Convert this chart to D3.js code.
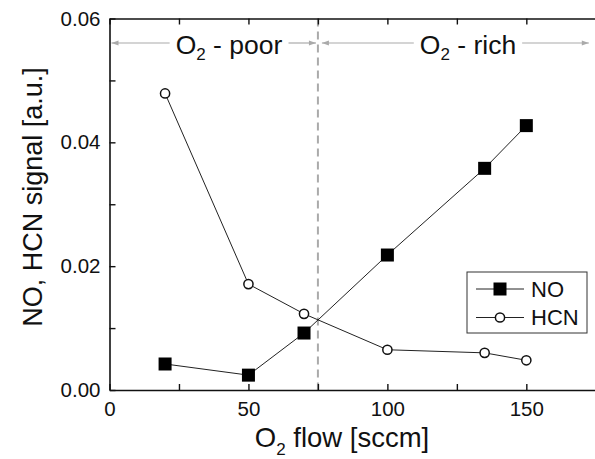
<!DOCTYPE html>
<html>
<head>
<meta charset="utf-8">
<script src="https://cdn.jsdelivr.net/npm/d3@7"></script>
<style>
  body { margin: 0; background: #fff; }
  svg { display: block; font-family: "Liberation Sans", Arial, Helvetica, sans-serif; }
</style>
</head>
<body>
<div id="chart"></div>
<script>
// O2 flow vs NO / HCN signal
const flow = [20, 50, 70, 100, 135, 150];
const noSignal = [0.0042, 0.0024, 0.0092, 0.0218, 0.0358, 0.0427];
const hcnSignal = [0.0479, 0.0171, 0.0123, 0.0065, 0.0060, 0.0048];
const xTickLabels = [0, 50, 100, 150];
const yTickLabels = [0, 0.02, 0.04, 0.06];
const seriesNames = ["NO", "HCN"];
const boundary = 75;

const width = 595, height = 459;
const plot = {left: 109.5, top: 18.5, right: 595.8, bottom: 390};

const svg = d3.select("#chart").append("svg")
  .attr("width", width).attr("height", height);

const x = d3.scaleLinear().domain([0, 175]).range([plot.left, plot.right]);
const y = d3.scaleLinear().domain([0, 0.06]).range([plot.bottom, plot.top]);

const axisColor = "#111";

// dashed boundary line
svg.append("line")
  .attr("x1", x(boundary)).attr("x2", x(boundary))
  .attr("y1", y(0.06)).attr("y2", y(0))
  .attr("stroke", "#aaa").attr("stroke-width", 2)
  .attr("stroke-dasharray", "8,5");

// axes
const xAxis = d3.axisBottom(x)
  .tickValues(d3.range(0, 176, 25))
  .tickSizeInner(-6).tickSizeOuter(0).tickPadding(11)
  .tickFormat(d => xTickLabels.includes(d) ? d : "");
const yAxis = d3.axisLeft(y)
  .tickValues(d3.range(0, 0.0601, 0.01))
  .tickSizeInner(-6).tickSizeOuter(0).tickPadding(9)
  .tickFormat(d => yTickLabels.some(v => Math.abs(v - d) < 1e-9) ? d3.format(".2f")(d) : "");
const topAxis = d3.axisTop(x)
  .tickValues(d3.range(0, 176, 25))
  .tickSizeInner(-6).tickSizeOuter(0).tickFormat("");

function styleAxis(g) {
  g.select(".domain").attr("stroke", axisColor).attr("stroke-width", 1.6);
  g.selectAll(".tick line").attr("stroke", axisColor).attr("stroke-width", 1.4);
  g.selectAll(".tick text").attr("fill", "#111").style("font-size", "20.5px")
    .style("font-family", "Liberation Sans, Arial, sans-serif");
}

svg.append("g").attr("transform", `translate(0,${plot.bottom})`).call(xAxis).call(styleAxis);
svg.append("g").attr("transform", `translate(${plot.left},0)`).call(yAxis).call(styleAxis);
svg.append("g").attr("transform", `translate(0,${plot.top})`).call(topAxis).call(styleAxis);

// series lines
const noData = flow.map((f, i) => ({f, v: noSignal[i]}));
const hcnData = flow.map((f, i) => ({f, v: hcnSignal[i]}));
const line = d3.line().x(d => x(d.f)).y(d => y(d.v));

svg.append("path").datum(noData).attr("d", line)
  .attr("fill", "none").attr("stroke", "#222").attr("stroke-width", 1);
svg.append("path").datum(hcnData).attr("d", line)
  .attr("fill", "none").attr("stroke", "#222").attr("stroke-width", 1);

const sq = 13;
svg.selectAll(".no").data(noData).join("rect")
  .attr("class", "no")
  .attr("x", d => x(d.f) - sq / 2).attr("y", d => y(d.v) - sq / 2)
  .attr("width", sq).attr("height", sq).attr("fill", "#000");

svg.selectAll(".hcn").data(hcnData).join("circle")
  .attr("class", "hcn")
  .attr("cx", d => x(d.f)).attr("cy", d => y(d.v)).attr("r", 4.6)
  .attr("fill", "#fff").attr("stroke", "#111").attr("stroke-width", 1.5);

// axis titles
const xt = svg.append("text")
  .attr("x", 342).attr("y", 447)
  .attr("text-anchor", "middle").style("font-size", "27.5px").attr("fill", "#111");
xt.append("tspan").text("O");
xt.append("tspan").text("2").style("font-size", "17px").attr("dy", "0.45em");
xt.append("tspan").text(" flow [sccm]").attr("dy", "-0.28em");

svg.append("text")
  .attr("transform", `translate(42,${197}) rotate(-90)`)
  .attr("text-anchor", "middle").style("font-size", "27px").attr("fill", "#111")
  .text("NO, HCN signal [a.u.]");

// region annotations
const arrowY = 43;
const defs = svg.append("defs");
defs.append("marker")
  .attr("id", "arr-end")
  .attr("viewBox", "0 0 10 10").attr("refX", 10).attr("refY", 5)
  .attr("markerWidth", 9).attr("markerHeight", 7).attr("markerUnits", "userSpaceOnUse")
  .attr("orient", "auto")
  .append("path").attr("d", "M0,1.5L10,5L0,8.5Z").attr("fill", "#aaa");

function region(label, cx, x0, x1) {
  const t = svg.append("text").attr("x", cx).attr("y", 54)
    .attr("text-anchor", "middle").style("font-size", "26.5px").attr("fill", "#111");
  t.append("tspan").text("O");
  t.append("tspan").text("2").style("font-size", "17px").attr("dy", "0.38em");
  t.append("tspan").text(" - " + label).attr("dy", "-0.25em");
  const bb = t.node().getBBox();
  const gap = 6;
  svg.append("line").attr("x1", bb.x - gap).attr("x2", x0).attr("y1", arrowY).attr("y2", arrowY)
    .attr("stroke", "#aaa").attr("stroke-width", 1.2).attr("marker-end", "url(#arr-end)");
  svg.append("line").attr("x1", bb.x + bb.width + gap).attr("x2", x1).attr("y1", arrowY).attr("y2", arrowY)
    .attr("stroke", "#aaa").attr("stroke-width", 1.2).attr("marker-end", "url(#arr-end)");
}
region("poor", x(43), x(0) + 2, x(boundary) - 2);
region("rich", x(129), x(boundary) + 4, x(175) - 7);

// legend
const legend = svg.append("g").attr("transform", "translate(467,272)");
legend.append("rect").attr("width", 120).attr("height", 61)
  .attr("fill", "#fff").attr("stroke", "#333").attr("stroke-width", 1);
seriesNames.forEach((name, i) => {
  const ly = 17 + i * 28.5;
  legend.append("line").attr("x1", 9).attr("x2", 57).attr("y1", ly).attr("y2", ly)
    .attr("stroke", "#222").attr("stroke-width", 1);
  if (name === "NO") {
    legend.append("rect").attr("x", 33 - sq / 2).attr("y", ly - sq / 2)
      .attr("width", sq).attr("height", sq).attr("fill", "#000");
  } else {
    legend.append("circle").attr("cx", 33).attr("cy", ly).attr("r", 4.6)
      .attr("fill", "#fff").attr("stroke", "#111").attr("stroke-width", 1.5);
  }
  legend.append("text").attr("x", 64).attr("y", ly).attr("dy", "0.36em")
    .style("font-size", "22px").attr("fill", "#111").text(name);
});
</script>
</body>
</html>
